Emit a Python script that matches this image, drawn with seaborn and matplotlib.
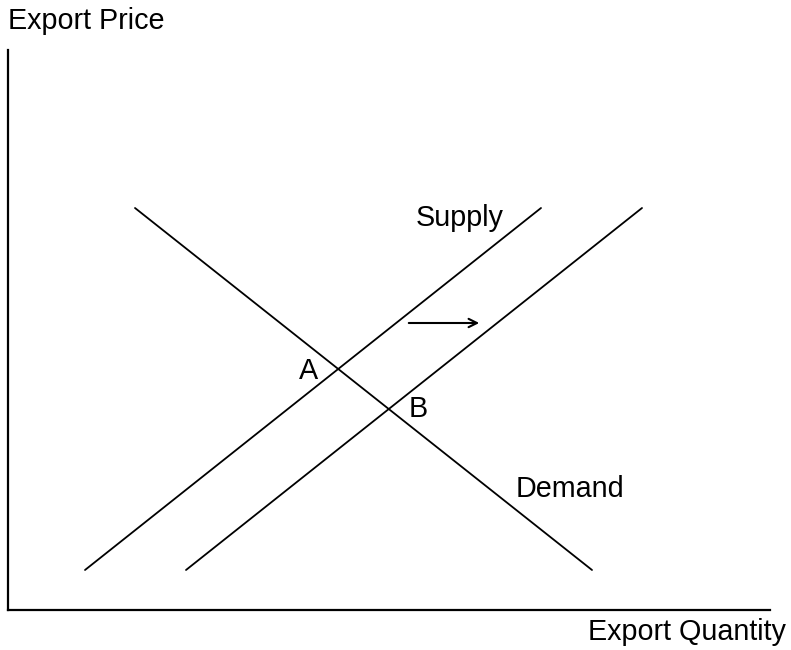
import numpy as np
import pandas as pd
import matplotlib
matplotlib.use("Agg")
import matplotlib.pyplot as plt
import seaborn as sns

# curve end points (quantity, price) in chart units
demand_q = [135, 592]
demand_p = [442, 80]
supply_q = [85, 541]
supply_p = [80, 442]
supply_new_q = [186, 642]
supply_new_p = [80, 442]

curves = pd.DataFrame({
    "quantity": demand_q + supply_q + supply_new_q,
    "price": demand_p + supply_p + supply_new_p,
    "curve": ["Demand"] * 2 + ["Supply"] * 2 + ["Supply 2"] * 2,
})

labels = ["Supply", "Demand", "A", "B"]
label_q = [416, 516, 299, 409]
label_p = [432, 161, 279, 241]
shift_start = (406, 327)
shift_end = (482, 327)

sns.set_style("white")
plt.rcParams["font.family"] = ["Liberation Sans", "DejaVu Sans"]

fig = plt.figure(figsize=(7.91, 6.50), dpi=100)
ax = fig.add_axes([8 / 791, 40 / 650, 762 / 791, 560 / 650])

sns.lineplot(data=curves, x="quantity", y="price", units="curve",
             estimator=None, color="black", linewidth=1.3, ax=ax, sort=False)

for txt, q, p in zip(labels, label_q, label_p):
    ax.text(q, p, txt, fontsize=20.7, color="black", ha="left", va="center")

ax.annotate("", xy=shift_end, xytext=shift_start,
            arrowprops=dict(arrowstyle="->", color="black", lw=1.5,
                            mutation_scale=15))

ax.set_xlim(8, 770)
ax.set_ylim(40, 600)
ax.set_xticks([])
ax.set_yticks([])
ax.set_xlabel("")
ax.set_ylabel("")
sns.despine(ax=ax)
for s in ["left", "bottom"]:
    ax.spines[s].set_color("black")
    ax.spines[s].set_linewidth(1.6)

fig.text(8 / 791, 1 - 21 / 650, "Export Price", fontsize=20.7, color="black",
         ha="left", va="center")
fig.text(786 / 791, 1 - 632 / 650, "Export Quantity", fontsize=20.7, color="black",
         ha="right", va="center")

fig.savefig("out.png", dpi=100)
